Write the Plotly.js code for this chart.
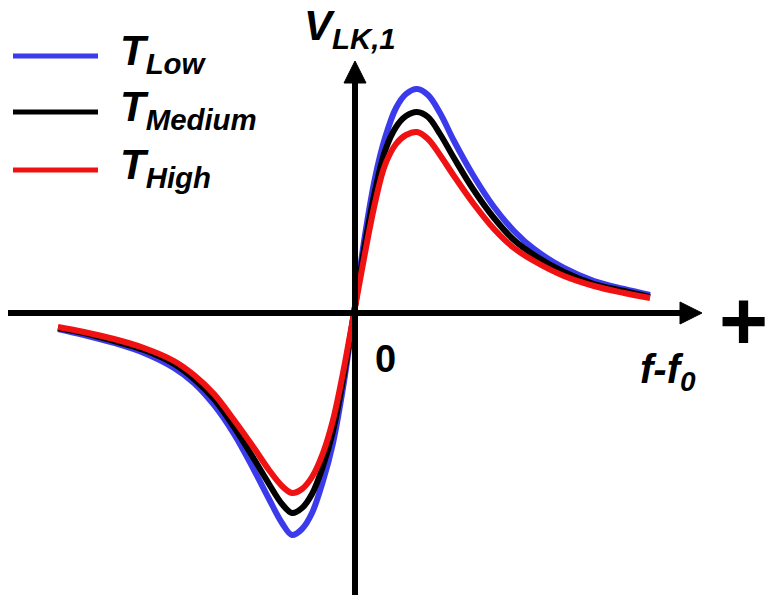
<!DOCTYPE html>
<html>
<head>
<meta charset="utf-8">
<script src="https://cdn.plot.ly/plotly-3.0.1.min.js"></script>
<style>html,body{margin:0;padding:0;background:#fff;}#chart{width:767px;height:597px;}</style>
</head>
<body>
<div id="chart"></div>
<script>
// Frequency detuning f - f0 (arbitrary units, relative to resonance)
var detuning = [-296, -270, -240, -210, -180, -160, -140, -120, -100, -85, -72, -62, -52, -42, -31, -21, -11, 0, 11, 21, 31, 42, 52, 63, 74, 86, 100, 119, 140, 160, 180, 210, 240, 270, 296];

// V_LK,1 signal (arbitrary units) for each temperature
var vLow = [-16, -22, -30, -40, -55, -70, -92, -121, -157, -186, -210, -222, -216, -200, -168, -130, -75, 0, 78, 135, 175, 205, 219, 224, 218, 200, 172, 138, 106, 82, 64, 45, 32, 24, 18];
var vMedium = [-15, -20, -28, -37, -51, -66, -86, -114, -146, -171, -191, -200, -195, -181, -153, -118, -67, 0, 69, 122, 162, 186, 197, 201, 196, 179, 155, 124, 95, 73, 58, 41, 29, 22, 16];
var vHigh = [-14, -19, -26, -35, -48, -62, -81, -107, -135, -157, -173, -180, -176, -164, -140, -107, -60, 0, 60, 110, 148, 169, 178, 181, 174, 158, 137, 110, 84, 65, 52, 37, 27, 20, 15];

// Legend labels and colours
var seriesNames = ['<b><i>T<sub>Low</sub></i></b>', '<b><i>T<sub>Medium</sub></i></b>', '<b><i>T<sub>High</sub></i></b>'];
var seriesColors = ['#3b3beb', '#000000', '#f01212'];
var seriesValues = [vLow, vMedium, vHigh];

var FONT = 'Liberation Sans, Arial, Helvetica, sans-serif';

var traces = seriesValues.map(function (vals, i) {
  return {
    x: detuning,
    y: vals,
    type: 'scatter',
    mode: 'lines',
    name: seriesNames[i],
    line: {color: seriesColors[i], width: 6, shape: 'spline', smoothing: 1},
    hoverinfo: 'skip',
    showlegend: false
  };
});

// Manual legend (line sample + label), positioned in the 1:1 pixel data frame
var legendLineY = [257, 201, 143];
var legendShapes = seriesColors.map(function (c, i) {
  return {type: 'line', xref: 'x', yref: 'y', x0: -341, x1: -256, y0: legendLineY[i], y1: legendLineY[i],
          line: {color: c, width: 5}};
});
var legendAnnots = seriesNames.map(function (t, i) {
  return {x: -236, y: legendLineY[i] + 3, xref: 'x', yref: 'y', xanchor: 'left', yanchor: 'middle',
          showarrow: false, text: t, font: {family: FONT, size: 42, color: '#000'}};
});

var layout = {
  width: 767,
  height: 597,
  margin: {l: 0, r: 0, t: 0, b: 0},
  paper_bgcolor: '#ffffff',
  plot_bgcolor: '#ffffff',
  showlegend: false,
  xaxis: {range: [-354, 413], visible: false, fixedrange: true},
  yaxis: {range: [-284, 313], visible: false, fixedrange: true},
  shapes: [
    {type: 'line', x0: -346, y0: 0, x1: 330, y1: 0, line: {color: '#000', width: 6}},
    {type: 'path', path: 'M 326 11 L 348 0 L 326 -11 Z', fillcolor: '#000', line: {color: '#000', width: 1}},
    {type: 'line', x0: 1, y0: -282, x1: 1, y1: 232, line: {color: '#000', width: 6}},
    {type: 'path', path: 'M -10 230 L 1 252 L 12 230 Z', fillcolor: '#000', line: {color: '#000', width: 1}}
  ].concat(legendShapes),
  annotations: [
    {x: -52, y: 285, xref: 'x', yref: 'y', xanchor: 'left', yanchor: 'middle', showarrow: false,
     text: '<b><i>V<sub>LK,1</sub></i></b>', font: {family: FONT, size: 42, color: '#000'}},
    {x: 31, y: -46, xref: 'x', yref: 'y', xanchor: 'center', yanchor: 'middle', showarrow: false,
     text: '<b>0</b>', font: {family: FONT, size: 38, color: '#000'}},
    {x: 314, y: -59, xref: 'x', yref: 'y', xanchor: 'center', yanchor: 'middle', showarrow: false,
     text: '<b><i>f-f<sub>0</sub></i></b>', font: {family: FONT, size: 40, color: '#000'}},
    {x: 389, y: -8, xref: 'x', yref: 'y', xanchor: 'center', yanchor: 'middle', showarrow: false,
     text: '<b>+</b>', font: {family: FONT, size: 84, color: '#000'}}
  ].concat(legendAnnots)
};

Plotly.newPlot('chart', traces, layout, {displayModeBar: false, staticPlot: true});
</script>
</body>
</html>
